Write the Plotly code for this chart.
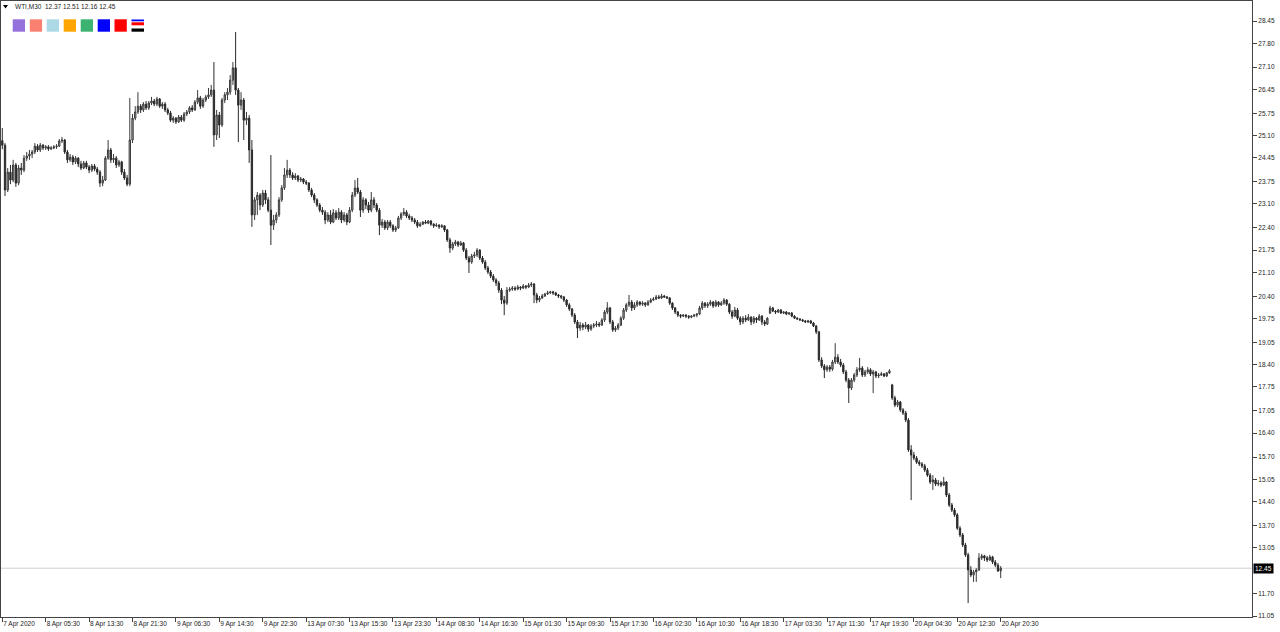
import plotly.graph_objects as go

# ---------------- data (WTI, M30) ----------------
open_ = [
24.95, 24.82, 23.51, 24.03, 23.80, 24.24, 23.71, 24.15, 24.09, 24.44,
24.50, 24.56, 24.62, 24.79, 24.68, 24.82, 24.74, 24.77, 24.71, 24.74,
24.77, 24.79, 24.94, 24.97, 24.62, 24.39, 24.47, 24.33, 24.44, 24.27,
24.15, 24.30, 24.18, 24.09, 24.21, 24.12, 24.03, 23.71, 23.80, 24.44,
24.68, 24.39, 24.44, 24.24, 24.33, 24.03, 23.86, 23.68, 24.97, 25.61,
25.79, 25.96, 25.85, 26.02, 25.91, 26.05, 26.11, 26.02, 26.17, 25.96,
26.02, 25.85, 25.76, 25.55, 25.61, 25.50, 25.64, 25.55, 25.73, 25.79,
25.91, 25.85, 26.08, 26.20, 25.96, 26.14, 26.23, 26.29, 26.43, 25.12,
25.70, 25.41, 26.14, 26.29, 26.37, 26.72, 27.08, 26.43, 25.99, 26.14,
25.55, 25.61, 24.68, 22.78, 23.22, 23.36, 23.07, 23.42, 23.22, 22.92,
22.48, 22.63, 22.78, 23.22, 23.57, 23.95, 24.09, 23.95, 23.86, 23.92,
23.80, 23.83, 23.74, 23.71, 23.51, 23.36, 23.22, 23.07, 22.92, 22.86,
22.63, 22.78, 22.57, 22.84, 22.69, 22.86, 22.63, 22.78, 22.57, 22.92,
23.36, 23.57, 23.45, 22.92, 23.22, 23.07, 22.92, 23.22, 23.07, 22.92,
22.48, 22.57, 22.40, 22.57, 22.46, 22.34, 22.40, 22.69, 22.81, 22.86,
22.75, 22.69, 22.63, 22.57, 22.46, 22.51, 22.57, 22.54, 22.60, 22.51,
22.46, 22.48, 22.43, 22.46, 22.34, 22.05, 21.81, 21.93, 21.99, 21.90,
21.96, 21.75, 21.52, 21.40, 21.58, 21.61, 21.75, 21.52, 21.40, 21.23,
21.11, 20.99, 20.88, 20.79, 20.58, 20.29, 20.20, 20.58, 20.61, 20.64,
20.61, 20.67, 20.64, 20.70, 20.67, 20.73, 20.76, 20.44, 20.29, 20.35,
20.41, 20.47, 20.50, 20.53, 20.50, 20.44, 20.41, 20.38, 20.29, 20.15,
20.03, 19.85, 19.65, 19.47, 19.56, 19.50, 19.56, 19.44, 19.53, 19.56,
19.59, 19.56, 19.71, 19.94, 20.06, 19.65, 19.42, 19.47, 19.56, 19.76,
20.00, 20.15, 20.23, 20.06, 20.15, 20.23, 20.17, 20.20, 20.15, 20.23,
20.29, 20.32, 20.38, 20.35, 20.41, 20.38, 20.35, 20.20, 20.06, 19.94,
19.85, 19.82, 19.85, 19.82, 19.79, 19.82, 19.85, 19.88, 20.06, 20.20,
20.12, 20.17, 20.23, 20.12, 20.23, 20.15, 20.20, 20.29, 20.17, 19.94,
19.82, 20.00, 19.76, 19.65, 19.76, 19.71, 19.79, 19.65, 19.76, 19.71,
19.82, 19.65, 19.59, 19.91, 20.06, 19.97, 19.94, 20.00, 19.91, 19.94,
19.88, 19.91, 19.82, 19.76, 19.74, 19.71, 19.68, 19.65, 19.68, 19.62,
19.53, 19.36, 18.54, 18.36, 18.25, 18.33, 18.27, 18.48, 18.62, 18.48,
18.39, 18.19, 17.95, 17.72, 17.95, 18.10, 18.25, 18.30, 18.10, 18.19,
18.25, 18.13, 18.19, 18.07, 18.10, 18.13, 18.07, 18.16, 17.81, 17.43,
17.22, 17.31, 17.08, 16.99, 16.78, 15.91, 15.76, 15.67, 15.55, 15.50,
15.44, 15.32, 15.17, 14.97, 15.03, 14.91, 14.94, 14.88, 14.97, 14.59,
14.30, 14.15, 14.01, 13.62, 13.42, 13.13, 12.84, 12.40, 12.25, 12.34,
12.40, 12.75, 12.81, 12.75, 12.69, 12.78, 12.63, 12.54, 12.37]

high = [
25.32, 24.88, 24.15, 24.24, 24.39, 24.30, 24.24, 24.30, 24.53, 24.62,
24.68, 24.68, 24.88, 24.85, 24.88, 24.85, 24.82, 24.82, 24.79, 24.82,
24.85, 25.00, 25.06, 25.00, 24.68, 24.56, 24.53, 24.50, 24.47, 24.36,
24.36, 24.36, 24.24, 24.27, 24.27, 24.18, 24.09, 23.92, 24.50, 24.97,
24.74, 24.56, 24.50, 24.39, 24.36, 24.12, 23.95, 26.20, 25.73, 25.96,
26.37, 26.02, 26.08, 26.11, 26.11, 26.23, 26.17, 26.23, 26.20, 26.08,
26.08, 25.91, 25.82, 25.67, 25.64, 25.70, 25.70, 25.79, 25.85, 25.96,
25.99, 26.14, 26.43, 26.26, 26.20, 26.29, 26.49, 26.58, 27.25, 25.85,
25.79, 26.20, 26.37, 26.49, 26.87, 27.25, 28.13, 26.49, 26.37, 26.20,
25.79, 25.70, 24.97, 23.30, 23.45, 23.42, 23.51, 23.51, 23.30, 24.53,
22.78, 22.86, 23.30, 23.65, 24.15, 24.39, 24.15, 24.03, 24.00, 23.95,
23.89, 23.86, 23.80, 23.74, 23.57, 23.42, 23.27, 23.13, 23.01, 22.92,
22.86, 22.92, 22.95, 22.92, 22.98, 22.92, 22.86, 22.84, 23.01, 23.45,
23.80, 23.86, 23.51, 23.30, 23.27, 23.16, 23.45, 23.30, 23.13, 22.98,
22.66, 22.63, 22.63, 22.63, 22.51, 22.46, 22.75, 22.86, 22.98, 22.92,
22.81, 22.75, 22.69, 22.63, 22.57, 22.60, 22.63, 22.63, 22.63, 22.54,
22.54, 22.51, 22.51, 22.48, 22.37, 22.11, 21.99, 22.05, 22.02, 22.02,
21.99, 21.81, 21.58, 21.64, 21.70, 21.81, 21.78, 21.58, 21.46, 21.29,
21.17, 21.05, 20.93, 20.85, 20.64, 20.41, 20.67, 20.67, 20.70, 20.70,
20.73, 20.70, 20.76, 20.73, 20.79, 20.82, 20.79, 20.50, 20.41, 20.47,
20.50, 20.56, 20.56, 20.56, 20.53, 20.47, 20.44, 20.41, 20.32, 20.20,
20.06, 19.91, 19.71, 19.65, 19.62, 19.65, 19.59, 19.59, 19.62, 19.68,
19.65, 19.76, 20.00, 20.23, 20.09, 19.71, 19.53, 19.62, 19.82, 20.06,
20.20, 20.44, 20.29, 20.23, 20.29, 20.26, 20.26, 20.23, 20.29, 20.35,
20.38, 20.44, 20.44, 20.47, 20.44, 20.41, 20.38, 20.23, 20.09, 19.97,
19.88, 19.88, 19.88, 19.85, 19.85, 19.88, 19.91, 20.12, 20.26, 20.23,
20.23, 20.29, 20.26, 20.29, 20.26, 20.26, 20.35, 20.32, 20.20, 20.00,
20.09, 20.06, 19.82, 19.82, 19.85, 19.88, 19.82, 19.82, 19.79, 19.88,
19.85, 19.71, 19.79, 20.12, 20.09, 20.00, 20.03, 20.03, 19.97, 19.97,
19.94, 19.94, 19.85, 19.79, 19.76, 19.74, 19.71, 19.71, 19.71, 19.65,
19.56, 19.39, 18.62, 18.42, 18.39, 18.39, 18.54, 19.03, 18.71, 18.57,
18.45, 18.25, 18.01, 18.01, 18.16, 18.33, 18.60, 18.36, 18.25, 18.33,
18.30, 18.25, 18.22, 18.16, 18.19, 18.16, 18.19, 18.27, 17.84, 17.49,
17.37, 17.34, 17.13, 17.05, 16.84, 16.05, 15.85, 15.73, 15.61, 15.55,
15.50, 15.38, 15.23, 15.17, 15.09, 15.03, 15.00, 15.12, 15.00, 14.65,
14.36, 14.21, 14.06, 13.68, 13.48, 13.19, 12.90, 12.51, 12.40, 12.45,
12.89, 12.87, 12.84, 12.81, 12.84, 12.81, 12.69, 12.60, 12.51]

low = [
24.70, 23.33, 23.45, 23.68, 23.74, 23.60, 23.65, 23.95, 24.03, 24.36,
24.39, 24.44, 24.56, 24.62, 24.62, 24.68, 24.68, 24.65, 24.68, 24.70,
24.71, 24.77, 24.88, 24.56, 24.30, 24.33, 24.24, 24.27, 24.18, 24.09,
24.12, 24.12, 24.00, 24.03, 24.06, 23.95, 23.60, 23.62, 23.77, 24.39,
24.30, 24.30, 24.15, 24.18, 23.95, 23.80, 23.62, 23.62, 24.88, 25.55,
25.73, 25.76, 25.79, 25.85, 25.85, 25.99, 25.96, 25.96, 25.91, 25.88,
25.79, 25.70, 25.50, 25.47, 25.44, 25.47, 25.50, 25.50, 25.67, 25.73,
25.79, 25.82, 26.02, 25.88, 25.91, 26.08, 26.17, 26.23, 24.77, 24.97,
25.03, 25.35, 26.05, 26.14, 26.29, 26.58, 26.29, 24.91, 25.85, 24.97,
25.41, 24.30, 22.43, 22.63, 22.78, 22.92, 23.01, 23.10, 22.86, 21.90,
22.34, 22.54, 22.72, 23.16, 23.51, 23.86, 23.86, 23.80, 23.80, 23.74,
23.74, 23.68, 23.65, 23.45, 23.30, 23.13, 23.01, 22.86, 22.78, 22.51,
22.57, 22.51, 22.54, 22.63, 22.63, 22.54, 22.57, 22.48, 22.54, 22.86,
23.30, 23.39, 22.72, 22.84, 22.95, 22.84, 22.86, 22.98, 22.86, 22.19,
22.40, 22.34, 22.34, 22.40, 22.28, 22.28, 22.37, 22.63, 22.75, 22.69,
22.63, 22.57, 22.51, 22.40, 22.43, 22.48, 22.51, 22.51, 22.46, 22.40,
22.43, 22.37, 22.40, 22.28, 21.99, 21.67, 21.75, 21.87, 21.84, 21.87,
21.70, 21.46, 21.08, 21.35, 21.52, 21.55, 21.46, 21.35, 21.17, 21.05,
20.93, 20.82, 20.70, 20.50, 20.17, 19.85, 20.15, 20.53, 20.56, 20.56,
20.58, 20.58, 20.61, 20.61, 20.64, 20.67, 20.20, 20.20, 20.23, 20.32,
20.38, 20.44, 20.47, 20.44, 20.41, 20.35, 20.32, 20.23, 20.09, 19.97,
19.79, 19.59, 19.18, 19.39, 19.41, 19.44, 19.36, 19.39, 19.47, 19.50,
19.50, 19.53, 19.65, 19.88, 19.59, 19.36, 19.36, 19.41, 19.53, 19.71,
19.94, 20.09, 19.97, 20.00, 20.09, 20.12, 20.12, 20.09, 20.12, 20.20,
20.26, 20.29, 20.32, 20.32, 20.35, 20.32, 20.15, 20.00, 19.88, 19.79,
19.76, 19.79, 19.76, 19.74, 19.76, 19.79, 19.79, 19.85, 20.00, 20.06,
20.06, 20.12, 20.06, 20.09, 20.09, 20.12, 20.15, 20.12, 19.88, 19.74,
19.79, 19.71, 19.56, 19.59, 19.65, 19.68, 19.56, 19.59, 19.62, 19.68,
19.56, 19.53, 19.56, 19.88, 19.94, 19.88, 19.91, 19.88, 19.88, 19.85,
19.85, 19.79, 19.74, 19.71, 19.68, 19.65, 19.62, 19.62, 19.59, 19.50,
19.30, 18.48, 18.30, 18.01, 18.19, 18.19, 18.22, 18.42, 18.42, 18.33,
18.13, 17.89, 17.28, 17.66, 17.89, 18.04, 18.19, 18.04, 18.04, 18.13,
18.07, 17.57, 18.01, 18.01, 18.07, 18.04, 18.04, 18.13, 17.37, 17.16,
17.16, 17.02, 16.93, 16.72, 15.85, 14.44, 15.61, 15.50, 15.44, 15.38,
15.26, 15.12, 14.91, 14.74, 14.85, 14.85, 14.82, 14.85, 14.53, 14.24,
14.09, 13.95, 13.57, 13.36, 13.07, 12.78, 11.43, 12.19, 12.05, 12.05,
12.37, 12.69, 12.66, 12.63, 12.66, 12.57, 12.48, 12.34, 12.16]

close = [
24.82, 23.51, 24.03, 23.80, 24.24, 23.71, 24.15, 24.09, 24.44, 24.50,
24.56, 24.62, 24.79, 24.68, 24.82, 24.74, 24.77, 24.71, 24.74, 24.77,
24.79, 24.94, 24.97, 24.62, 24.39, 24.47, 24.33, 24.44, 24.27, 24.15,
24.30, 24.18, 24.09, 24.21, 24.12, 24.03, 23.71, 23.80, 24.44, 24.68,
24.39, 24.44, 24.24, 24.33, 24.03, 23.86, 23.68, 24.97, 25.61, 25.79,
25.96, 25.85, 26.02, 25.91, 26.05, 26.11, 26.02, 26.17, 25.96, 26.02,
25.85, 25.76, 25.55, 25.61, 25.50, 25.64, 25.55, 25.73, 25.79, 25.91,
25.85, 26.08, 26.20, 25.96, 26.14, 26.23, 26.29, 26.43, 25.12, 25.70,
25.41, 26.14, 26.29, 26.37, 26.72, 27.08, 26.43, 25.99, 26.14, 25.55,
25.61, 24.68, 22.78, 23.22, 23.36, 23.07, 23.42, 23.22, 22.92, 22.48,
22.63, 22.78, 23.22, 23.57, 23.95, 24.09, 23.95, 23.86, 23.92, 23.80,
23.83, 23.74, 23.71, 23.51, 23.36, 23.22, 23.07, 22.92, 22.86, 22.63,
22.78, 22.57, 22.84, 22.69, 22.86, 22.63, 22.78, 22.57, 22.92, 23.36,
23.57, 23.45, 22.92, 23.22, 23.07, 22.92, 23.22, 23.07, 22.92, 22.48,
22.57, 22.40, 22.57, 22.46, 22.34, 22.40, 22.69, 22.81, 22.86, 22.75,
22.69, 22.63, 22.57, 22.46, 22.51, 22.57, 22.54, 22.60, 22.51, 22.46,
22.48, 22.43, 22.46, 22.34, 22.05, 21.81, 21.93, 21.99, 21.90, 21.96,
21.75, 21.52, 21.40, 21.58, 21.61, 21.75, 21.52, 21.40, 21.23, 21.11,
20.99, 20.88, 20.79, 20.58, 20.29, 20.20, 20.58, 20.61, 20.64, 20.61,
20.67, 20.64, 20.70, 20.67, 20.73, 20.76, 20.44, 20.29, 20.35, 20.41,
20.47, 20.50, 20.53, 20.50, 20.44, 20.41, 20.38, 20.29, 20.15, 20.03,
19.85, 19.65, 19.47, 19.56, 19.50, 19.56, 19.44, 19.53, 19.56, 19.59,
19.56, 19.71, 19.94, 20.06, 19.65, 19.42, 19.47, 19.56, 19.76, 20.00,
20.15, 20.23, 20.06, 20.15, 20.23, 20.17, 20.20, 20.15, 20.23, 20.29,
20.32, 20.38, 20.35, 20.41, 20.38, 20.35, 20.20, 20.06, 19.94, 19.85,
19.82, 19.85, 19.82, 19.79, 19.82, 19.85, 19.88, 20.06, 20.20, 20.12,
20.17, 20.23, 20.12, 20.23, 20.15, 20.20, 20.29, 20.17, 19.94, 19.82,
20.00, 19.76, 19.65, 19.76, 19.71, 19.79, 19.65, 19.76, 19.71, 19.82,
19.65, 19.59, 19.76, 20.06, 19.97, 19.94, 20.00, 19.91, 19.94, 19.88,
19.91, 19.82, 19.76, 19.74, 19.71, 19.68, 19.65, 19.68, 19.62, 19.53,
19.36, 18.54, 18.36, 18.25, 18.33, 18.27, 18.48, 18.62, 18.48, 18.39,
18.19, 17.95, 17.72, 17.95, 18.10, 18.25, 18.30, 18.10, 18.19, 18.25,
18.13, 18.19, 18.07, 18.10, 18.13, 18.07, 18.16, 18.22, 17.43, 17.22,
17.31, 17.08, 16.99, 16.78, 15.91, 15.76, 15.67, 15.55, 15.50, 15.44,
15.32, 15.17, 14.97, 15.03, 14.91, 14.94, 14.88, 14.97, 14.59, 14.30,
14.15, 14.01, 13.62, 13.42, 13.13, 12.84, 12.40, 12.25, 12.34, 12.40,
12.75, 12.81, 12.75, 12.69, 12.78, 12.63, 12.54, 12.37, 12.45]

x_tick_labels = [
    "7 Apr 2020", "8 Apr 05:30", "8 Apr 13:30", "8 Apr 21:30", "9 Apr 06:30",
    "9 Apr 14:30", "9 Apr 22:30", "13 Apr 07:30", "13 Apr 15:30", "13 Apr 23:30",
    "14 Apr 08:30", "14 Apr 16:30", "15 Apr 01:30", "15 Apr 09:30", "15 Apr 17:30",
    "16 Apr 02:30", "16 Apr 10:30", "16 Apr 18:30", "17 Apr 03:30", "17 Apr 11:30",
    "17 Apr 19:30", "20 Apr 04:30", "20 Apr 12:30", "20 Apr 20:30"]
bars_per_label = 16

y_tick_values = [28.45, 27.80, 27.10, 26.45, 25.75, 25.10, 24.45, 23.75, 23.10,
                 22.40, 21.75, 21.10, 20.40, 19.75, 19.05, 18.40, 17.75, 17.05,
                 16.40, 15.70, 15.05, 14.40, 13.70, 13.05, 11.70, 11.05]

symbol = "WTI,M30"
last_price = close[-1]

legend_colors = ["#9370DB", "#FA8072", "#ADD8E6", "#FFA500", "#3CB371", "#0000FF", "#FF0000"]

# ---------------- figure ----------------
W, H = 1280, 632
PL, PR, PT, PB = 1, 1252, 1, 617   # plot area in pixels


def px(xp):
    return (xp - PL) / (PR - PL)


def py(yp):
    return (PB - yp) / (PB - PT)


x = list(range(len(close)))
tick_idx = [i * bars_per_label for i in range(len(x_tick_labels))]

FONT = "Liberation Sans, Arial, sans-serif"
INK = "#222222"

fig = go.Figure()
fig.add_trace(go.Candlestick(
    x=x, open=open_, high=high, low=low, close=close,
    increasing=dict(line=dict(color="#3a3a3a", width=1), fillcolor="#b4b4b4"),
    decreasing=dict(line=dict(color="#2a2a2a", width=1), fillcolor="#2a2a2a"),
    whiskerwidth=0, hoverinfo="skip", showlegend=False))

shapes = []
# current price line
shapes.append(dict(type="line", xref="paper", x0=0, x1=1, yref="y",
                   y0=last_price, y1=last_price,
                   line=dict(color="#d0d0d0", width=1), layer="below"))
# small triangle at top-left
shapes.append(dict(type="path", xref="paper", yref="paper",
                   path=f"M {px(3)} {py(5)} L {px(8)} {py(5)} L {px(5.5)} {py(8.5)} Z",
                   fillcolor="#000000", line=dict(width=0)))
# coloured squares
sq_x = [12.7, 29.8, 46.7, 63.7, 80.7, 97.7, 114.5]
for c, x0 in zip(legend_colors, sq_x):
    shapes.append(dict(type="rect", xref="paper", yref="paper",
                       x0=px(x0), x1=px(x0 + 12.3), y0=py(31.7), y1=py(19.3),
                       fillcolor=c, line=dict(width=0)))
# stripe icon
for c, y0, y1 in [("#0000FF", 19.5, 21.3), ("#FF0000", 22.3, 25.3), ("#000000", 28.5, 31.7)]:
    shapes.append(dict(type="rect", xref="paper", yref="paper",
                       x0=px(131.5), x1=px(144), y0=py(y1), y1=py(y0),
                       fillcolor=c, line=dict(width=0)))

annotations = [
    dict(xref="paper", yref="paper", x=px(12.5), y=py(7), xanchor="left", yanchor="middle",
         text=f"{symbol}&nbsp;&nbsp;{open_[-1]:.2f} {high[-1]:.2f} {low[-1]:.2f} {close[-1]:.2f}",
         showarrow=False, font=dict(family=FONT, size=6.5, color=INK)),
    dict(xref="paper", yref="y", x=1, y=last_price, xanchor="left", yanchor="middle",
         xshift=1, text=f"{last_price:.2f}", showarrow=False, bgcolor="#000000",
         borderpad=1, font=dict(family=FONT, size=6.5, color="#ffffff")),
]

bar_px = 2.713
x_lo = -(2.3 - PL) / bar_px
x_hi = (PR - 2.3) / bar_px
y_hi = 28.45 + (21 - PT) / 34.2
y_lo = 28.45 - (PB - 21) / 34.2

fig.update_layout(
    width=W, height=H,
    margin=dict(l=PL, r=W - PR, t=PT, b=H - PB, pad=0, autoexpand=False),
    paper_bgcolor="#ffffff", plot_bgcolor="#ffffff",
    shapes=shapes, annotations=annotations,
    xaxis=dict(range=[x_lo, x_hi], tickmode="array", tickvals=tick_idx,
               ticktext=x_tick_labels, ticks="outside", ticklen=4, tickwidth=1,
               tickcolor="#444444", showline=True, mirror=True, linecolor="#444444",
               linewidth=1, showgrid=False, zeroline=False, tickangle=0,
               ticklabelposition="outside right", automargin=False,
               tickfont=dict(family=FONT, size=6.5, color=INK),
               rangeslider=dict(visible=False), fixedrange=True),
    yaxis=dict(range=[y_lo, y_hi], side="right", tickmode="array",
               tickvals=y_tick_values, tickformat=".2f", ticks="outside",
               ticklen=4, tickwidth=1, tickcolor="#444444", showline=True,
               mirror=True, linecolor="#444444", linewidth=1, showgrid=False,
               zeroline=False, automargin=False,
               tickfont=dict(family=FONT, size=6.5, color=INK),
               fixedrange=True),
)

fig.write_html(
    "out.html",
    config={"displayModeBar": False},
    post_script="document.body.style.margin='0';document.body.style.padding='0';"
                "document.documentElement.style.overflow='hidden';",
)
